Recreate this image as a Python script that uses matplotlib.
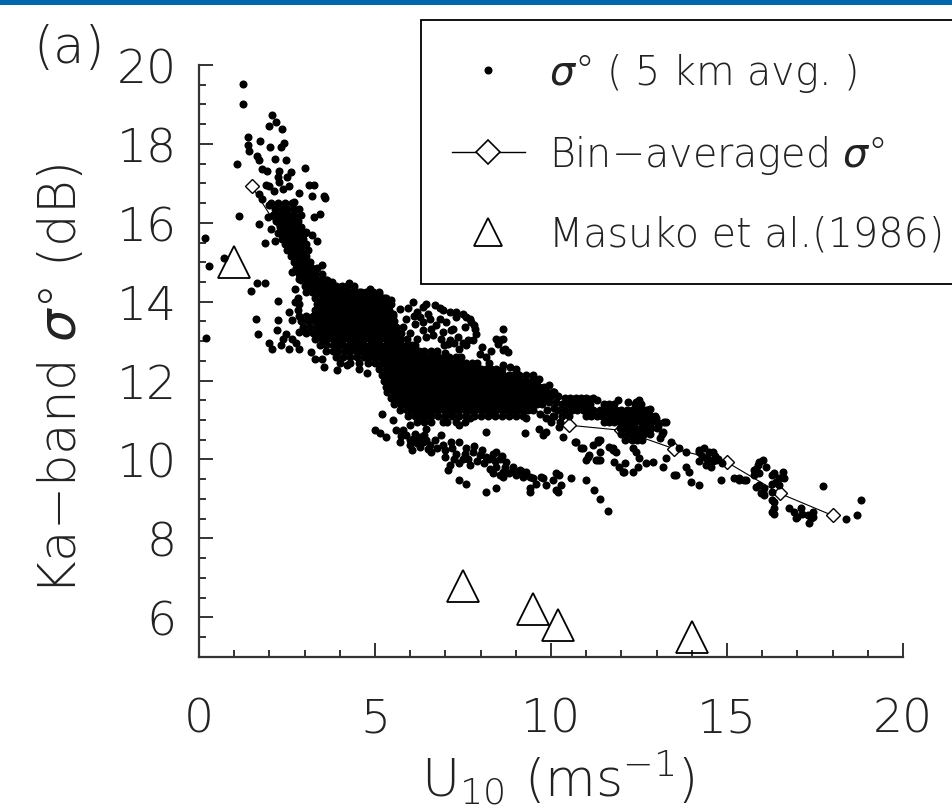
#!/usr/bin/env python
# -*- coding: utf-8 -*-
"""
Ka-band sigma0 versus U10 scatter plot, panel (a)
"""

import numpy as np
import matplotlib
matplotlib.use('Agg')
import matplotlib.pyplot as plt
from matplotlib.lines import Line2D
from matplotlib.patches import Rectangle
from matplotlib.ticker import MultipleLocator

# fonts: thin DejaVu face, normal weight italic for the sigma
plt.rcParams['font.family'] = ['DejaVu Sans']
plt.rcParams['font.weight'] = 'light'
plt.rcParams['axes.labelweight'] = 'light'
plt.rcParams['mathtext.fontset'] = 'custom'
plt.rcParams['mathtext.rm'] = 'DejaVu Sans:light'
plt.rcParams['mathtext.it'] = 'DejaVu Sans:italic'

# ---------------------------------------------------------------
# data (U10 in m/s, sigma0 in dB)
# ---------------------------------------------------------------

# bin averaged sigma0 (every 1.5 m/s)
bin_u = [1.5, 3.0, 4.5, 6.0, 7.5, 9.0, 10.5, 12.0, 13.5, 15.0, 16.5, 18.0]
bin_sig = [16.93, 14.8, 13.5, 12.6, 12.0, 11.45, 10.87, 10.74, 10.27, 9.93, 9.14, 8.58]

# Masuko et al. (1986)
masuko_u = [1.0, 7.5, 9.5, 10.2, 14.0]
masuko_sig = [15.0, 6.8, 6.2, 5.8, 5.5]

# isolated samples on the low wind / steep part
sparse_pts = [
    (0.17, 15.62), (0.28, 14.90), (0.71, 15.12), (0.19, 13.07), (1.07, 17.49),
    (1.15, 16.17), (1.26, 19.52), (1.26, 19.01), (1.47, 14.27), (1.65, 14.48),
    (1.87, 14.48), (1.61, 13.57), (1.68, 13.17), (1.70, 15.96), (1.87, 15.49),
    (2.08, 18.73), (1.99, 18.46), (2.19, 18.55), (2.36, 18.38), (1.40, 18.17),
    (1.40, 17.96), (1.42, 17.83), (1.73, 18.07), (2.03, 17.92), (2.32, 17.92),
    (2.41, 18.02), (1.65, 17.70), (1.70, 17.60), (2.17, 17.62), (2.46, 17.58),
    (1.80, 17.37), (1.94, 17.32), (2.27, 17.32), (2.25, 17.16), (2.51, 17.16),
    (3.01, 17.38), (1.89, 16.97), (1.99, 16.93), (2.27, 17.03), (2.55, 16.93),
    (3.12, 16.95), (3.26, 16.96), (1.70, 16.73), (1.80, 16.61), (2.70, 16.52),
    (3.22, 16.68), (3.55, 16.68), (3.59, 16.62), (3.26, 16.14), (3.45, 16.23),
    (3.03, 15.76), (3.22, 15.68), (3.36, 15.55), (3.50, 14.94), (3.26, 14.62),
    (2.25, 14.01), (2.00, 12.95), (2.08, 12.81), (2.32, 12.89), (2.46, 13.19),
    (2.65, 13.06), (2.84, 13.23), (2.55, 12.81), (2.84, 12.81), (3.17, 12.73),
    (3.31, 12.56), (2.55, 13.74), (2.65, 13.53), (2.74, 13.99), (2.74, 14.33),
    (2.25, 13.53), (2.22, 13.28), (2.38, 13.05), (2.75, 12.95), (3.55, 12.35),
    (3.92, 12.26), (4.78, 12.18), (4.20, 12.40), (4.55, 12.30), (3.78, 14.50),
    (4.02, 14.36), (4.54, 14.25), (4.73, 14.23), (4.92, 14.20), (5.11, 14.20),
    (3.97, 14.33), (5.30, 14.10), (2.65, 14.75), (2.84, 14.58), (3.12, 14.33),
    (3.40, 14.33), (2.00, 16.45), (2.12, 16.80), (2.40, 16.85), (2.60, 17.30),
    (2.85, 16.75), (1.95, 16.15), (2.05, 15.85), (2.15, 15.55), (3.60, 14.55),
    (4.25, 14.48), (4.85, 14.32), (5.45, 14.05), (3.50, 12.55), (4.00, 12.45),
]

# ring shaped sub-cloud above the main band
loop_pts = [
    (6.08, 13.99), (6.36, 13.86), (6.70, 13.92), (6.93, 13.78), (7.12, 13.74),
    (7.50, 13.70), (7.69, 13.57), (7.74, 13.49), (7.88, 13.19), (7.83, 13.30),
    (7.78, 13.02), (7.59, 12.89), (7.64, 13.02), (7.36, 13.10), (7.17, 13.27),
    (7.22, 13.32), (7.03, 13.48), (6.84, 13.57), (6.55, 13.57), (6.27, 13.61),
    (6.13, 13.44), (6.36, 13.27), (6.36, 13.49), (6.65, 13.15), (6.74, 13.40),
    (6.88, 13.06), (6.93, 13.23), (7.07, 12.94), (7.12, 13.02), (7.40, 12.81),
    (7.97, 12.68), (8.16, 12.60), (5.70, 13.82), (5.51, 13.69), (5.89, 13.57),
    (5.80, 13.36), (8.63, 13.32), (8.65, 13.06), (8.44, 13.06), (8.54, 13.02),
    (8.68, 12.81), (8.78, 12.73), (8.49, 12.94), (8.65, 12.77), (8.63, 12.39),
    (6.20, 13.75), (6.50, 13.70), (7.30, 13.60), (7.55, 13.35), (6.00, 13.20),
    (6.20, 13.05), (6.45, 13.95), (6.85, 13.85), (7.30, 13.75), (7.60, 13.60),
    (7.80, 13.40), (7.50, 12.95), (7.25, 12.95), (6.95, 12.90), (6.60, 13.30),
    (6.45, 13.10), (6.10, 13.65), (5.95, 13.85), (8.30, 12.75), (8.05, 12.85),
]

# edges of the main band and the 10-13 m/s group
band_edge_pts = [
    (9.01, 12.30), (9.30, 12.14), (9.49, 12.05), (9.67, 12.05), (9.86, 11.63),
    (10.05, 11.71), (9.48, 12.14), (9.01, 12.22), (9.77, 11.80), (10.10, 11.71),
    (10.43, 11.50), (10.62, 11.54), (10.85, 11.54), (11.09, 11.54), (11.57, 11.38),
    (12.51, 11.50), (12.42, 11.46), (12.51, 11.33), (12.70, 11.25), (12.79, 11.12),
    (12.98, 11.04), (13.27, 10.95), (13.17, 10.70), (12.80, 11.29), (5.20, 11.15),
    (5.50, 11.00), (5.99, 10.87), (6.46, 10.78), (6.93, 10.95), (7.40, 10.87),
    (7.69, 11.04), (8.35, 11.16), (8.14, 10.70), (9.25, 10.66), (9.30, 11.04),
    (9.86, 11.04), (10.24, 10.83), (9.67, 10.78), (9.86, 10.70), (10.34, 10.57),
    (10.71, 10.45), (10.90, 10.28), (11.05, 10.07), (11.19, 10.36), (11.33, 10.49),
    (11.33, 9.98), (11.75, 10.28), (9.77, 10.62), (6.75, 12.75), (7.00, 12.70),
    (7.45, 12.60), (8.25, 12.45), (8.85, 12.35), (9.95, 11.90), (10.20, 11.60),
    (11.30, 11.50), (11.90, 11.50), (12.20, 11.45), (13.05, 10.85), (13.10, 10.55),
    (9.95, 11.45), (10.10, 11.30), (10.00, 11.60), (9.90, 11.25), (10.05, 11.10),
    (9.70, 11.15), (10.15, 11.45),
]

# lower branch (5-11.5 m/s, 9-10.8 dB)
lower_pts = [
    (4.99, 10.74), (5.13, 10.66), (5.32, 10.57), (5.61, 10.74), (5.70, 10.45),
    (5.89, 10.62), (6.08, 10.53), (6.27, 10.57), (6.46, 10.49), (6.55, 10.36),
    (6.60, 10.19), (6.27, 10.32), (5.99, 10.36), (6.88, 10.62), (6.93, 10.36),
    (6.98, 10.07), (7.12, 9.86), (7.07, 9.73), (7.40, 10.45), (7.59, 10.28),
    (7.50, 10.02), (7.78, 10.19), (7.97, 10.11), (8.16, 10.07), (8.35, 10.15),
    (8.54, 10.02), (8.73, 9.94), (8.44, 9.81), (8.63, 9.69), (8.54, 9.60),
    (8.26, 9.77), (8.92, 9.77), (9.11, 9.73), (9.30, 9.69), (9.39, 9.56),
    (7.40, 9.90), (7.69, 9.86), (7.40, 9.48), (7.59, 9.37), (8.16, 9.18),
    (8.44, 9.27), (9.39, 9.27), (9.58, 9.39), (9.72, 9.56), (9.86, 9.35),
    (10.05, 9.48), (10.24, 9.60), (10.29, 9.35), (10.15, 9.22), (10.57, 9.52),
    (11.00, 9.48), (11.23, 9.22), (11.38, 9.01), (11.61, 8.70), (8.92, 9.81),
    (9.20, 9.69), (9.48, 9.52), (9.77, 9.52), (10.15, 9.65), (10.19, 9.18),
    (5.75, 10.60), (5.80, 10.75), (6.00, 10.50), (6.15, 10.65), (6.20, 10.42),
    (6.35, 10.45), (6.40, 10.62), (6.50, 10.27), (6.70, 10.50), (6.05, 10.25),
    (7.20, 10.30), (7.30, 10.15), (7.25, 10.00), (7.55, 10.15), (7.65, 10.00),
    (7.80, 10.35), (7.90, 9.95), (8.05, 10.25), (8.10, 9.90), (8.25, 10.00),
    (8.40, 9.95), (8.45, 10.20), (8.60, 10.10), (8.70, 9.80), (8.80, 9.65),
    (8.35, 9.65), (8.65, 9.55), (9.00, 9.60), (9.20, 9.55), (7.15, 10.45),
    (6.75, 10.30), (7.00, 10.25), (9.39, 9.18),
]

# scattered samples below the 10-13 m/s group
right_pts = [
    (11.66, 10.32), (11.75, 10.24), (11.80, 9.94), (11.94, 9.81), (12.08, 9.69),
    (12.32, 10.28), (12.51, 10.03), (12.46, 9.82), (12.70, 9.90), (12.89, 9.94),
    (13.17, 9.82), (13.27, 10.03), (13.55, 9.60), (13.83, 9.82), (13.93, 9.69),
    (13.98, 9.43), (14.21, 9.35), (11.38, 10.49), (11.38, 9.98), (10.67, 10.45),
    (10.86, 10.28), (11.09, 10.11), (11.33, 10.45), (11.38, 10.20), (11.00, 9.98),
    (11.28, 9.98), (11.85, 10.20), (12.09, 9.90), (12.04, 9.69), (12.42, 10.20),
    (12.32, 9.69), (13.83, 10.19), (14.21, 10.19), (14.40, 10.03), (14.69, 9.98),
    (14.59, 10.19), (14.83, 9.48), (15.21, 9.52), (15.35, 9.48), (15.54, 9.48),
    (13.50, 9.60), (14.20, 10.25), (14.35, 10.28), (14.50, 10.20), (14.65, 10.10),
    (14.30, 10.10), (14.45, 10.00), (14.60, 9.95), (14.75, 10.00), (14.20, 9.95),
    (14.40, 9.85), (14.55, 9.82), (14.85, 9.90), (13.40, 10.45), (13.65, 10.30),
]

# high wind tail
tail_pts = [
    (15.82, 9.77), (15.92, 9.94), (16.01, 9.98), (16.10, 9.82), (15.77, 9.60),
    (15.92, 9.35), (16.06, 9.27), (16.29, 9.60), (16.39, 9.43), (15.87, 9.86),
    (15.77, 9.73), (15.92, 9.65), (15.49, 9.48), (15.35, 9.52), (16.34, 9.65),
    (16.58, 9.69), (16.48, 9.52), (16.62, 9.52), (16.29, 9.39), (15.82, 9.31),
    (15.96, 9.14), (16.06, 9.10), (16.29, 8.97), (16.34, 8.76), (16.34, 8.63),
    (16.77, 8.76), (16.91, 8.68), (17.00, 8.55), (17.14, 8.63), (17.29, 8.59),
    (17.38, 8.51), (17.33, 8.38), (17.43, 8.55), (17.74, 9.33), (18.37, 8.48),
    (18.70, 8.59), (18.82, 8.97), (16.01, 9.18), (16.29, 9.18), (16.34, 8.93),
    (16.29, 8.68), (16.96, 8.51), (17.43, 8.68), (17.10, 8.76), (16.48, 9.35),
]

# densely packed parts of the cloud, written row by row: (sigma0, [U10, ...])
dense_rows = [
    (16.50, [2.05, 2.25, 2.45, 2.65]),
    (16.35, [2.15, 2.35, 2.5, 2.7, 2.85]),
    (16.20, [2.1, 2.25, 2.4, 2.55, 2.7, 2.9]),
    (16.05, [2.2, 2.35, 2.5, 2.65, 2.8]),
    (15.90, [2.3, 2.45, 2.6, 2.75, 2.9]),
    (15.75, [2.25, 2.4, 2.55, 2.7, 2.85, 3.0]),
    (15.60, [2.35, 2.5, 2.65, 2.8, 2.95]),
    (15.45, [2.45, 2.6, 2.75, 2.9, 3.05]),
    (15.30, [2.5, 2.65, 2.8, 2.95, 3.1]),
    (15.15, [2.6, 2.75, 2.9, 3.05]),
    (15.00, [2.7, 2.85, 3.0, 3.15]),
    (14.85, [2.75, 2.9, 3.05, 3.2, 3.35]),
    (14.70, [2.85, 3.0, 3.15, 3.3, 3.5]),
    (14.55, [2.9, 3.05, 3.2, 3.35, 3.5, 3.65]),
    (14.40, [3.0, 3.15, 3.3, 3.45, 3.6, 3.75, 3.9, 4.05, 4.2, 4.4]),
    (14.25, [3.05, 3.2, 3.4, 3.55, 3.7, 3.85, 4.0, 4.15, 4.3, 4.45, 4.6, 4.75, 4.95, 5.1]),
    (14.10, [2.8, 3.3, 3.45, 3.6, 3.75, 3.9, 4.05, 4.2, 4.35, 4.5, 4.65, 4.8, 4.95, 5.1, 5.25]),
    (13.95, [2.85, 3.35, 3.5, 3.65, 3.8, 3.95, 4.1, 4.25, 4.4, 4.55, 4.7, 4.85, 5.0, 5.15, 5.3, 5.45]),
    (13.80, [2.8, 3.3, 3.45, 3.6, 3.75, 3.9, 4.05, 4.2, 4.35, 4.5, 4.65, 4.8, 4.95, 5.1, 5.25, 5.4]),
    (13.65, [2.85, 3.05, 3.25, 3.4, 3.55, 3.7, 3.85, 4.0, 4.15, 4.3, 4.45, 4.6, 4.75, 4.9, 5.05, 5.2,
             5.35, 5.5]),
    (13.50, [2.9, 3.1, 3.3, 3.45, 3.6, 3.75, 3.9, 4.05, 4.2, 4.35, 4.5, 4.65, 4.8, 4.95, 5.1, 5.25,
             5.4, 5.55]),
    (13.35, [2.95, 3.15, 3.35, 3.5, 3.65, 3.8, 3.95, 4.1, 4.25, 4.4, 4.55, 4.7, 4.85, 5.0, 5.15, 5.3,
             5.45, 5.6]),
    (13.20, [3.05, 3.25, 3.4, 3.55, 3.7, 3.85, 4.0, 4.15, 4.3, 4.45, 4.6, 4.75, 4.9, 5.05, 5.2, 5.35,
             5.5, 5.65, 5.75]),
    (13.05, [3.3, 3.5, 3.65, 3.8, 3.95, 4.1, 4.25, 4.4, 4.55, 4.7, 4.85, 5.0, 5.15, 5.3, 5.45, 5.6,
             5.75, 5.9]),
    (12.90, [3.45, 3.6, 3.8, 3.95, 4.1, 4.25, 4.4, 4.55, 4.7, 4.85, 5.0, 5.15, 5.3, 5.45, 5.6, 5.75,
             5.9, 6.05, 6.15]),
    (12.75, [3.6, 3.8, 3.95, 4.15, 4.3, 4.45, 4.6, 4.75, 4.9, 5.05, 5.2, 5.35, 5.5, 5.65, 5.8, 5.95,
             6.1, 6.25, 6.4, 6.6]),
    (12.60, [3.9, 4.1, 4.3, 4.5, 4.7, 4.85, 5.0, 5.15, 5.3, 5.45, 5.6, 5.75, 5.9, 6.05, 6.2, 6.35,
             6.5, 6.65, 6.8, 6.95, 7.1, 7.3]),
    (12.45, [4.3, 4.55, 4.8, 5.0, 5.2, 5.35, 5.5, 5.65, 5.8, 5.95, 6.1, 6.25, 6.4, 6.55, 6.7, 6.85,
             7.0, 7.15, 7.3, 7.45, 7.6, 7.75, 7.9]),
    (12.30, [5.1, 5.3, 5.45, 5.6, 5.75, 5.9, 6.05, 6.2, 6.35, 6.5, 6.65, 6.8, 6.95, 7.1, 7.25, 7.4,
             7.55, 7.7, 7.85, 8.0, 8.15, 8.3, 8.45, 8.6]),
    (12.15, [5.2, 5.35, 5.5, 5.65, 5.8, 5.95, 6.1, 6.25, 6.4, 6.55, 6.7, 6.85, 7.0, 7.15, 7.3, 7.45,
             7.6, 7.75, 7.9, 8.05, 8.2, 8.35, 8.5, 8.65, 8.8, 8.95, 9.1]),
    (12.00, [5.25, 5.4, 5.55, 5.7, 5.85, 6.0, 6.15, 6.3, 6.45, 6.6, 6.75, 6.9, 7.05, 7.2, 7.35, 7.5,
             7.65, 7.8, 7.95, 8.1, 8.25, 8.4, 8.55, 8.7, 8.85, 9.0, 9.15, 9.3, 9.45, 9.6]),
    (11.85, [5.3, 5.45, 5.6, 5.75, 5.9, 6.05, 6.2, 6.35, 6.5, 6.65, 6.8, 6.95, 7.1, 7.25, 7.4, 7.55,
             7.7, 7.85, 8.0, 8.15, 8.3, 8.45, 8.6, 8.75, 8.9, 9.05, 9.2, 9.35, 9.5, 9.65, 9.8]),
    (11.70, [5.35, 5.55, 5.7, 5.85, 6.0, 6.15, 6.3, 6.45, 6.6, 6.75, 6.9, 7.05, 7.2, 7.35, 7.5, 7.65,
             7.8, 7.95, 8.1, 8.25, 8.4, 8.55, 8.7, 8.85, 9.0, 9.15, 9.3, 9.45, 9.6, 9.75, 9.9, 10.05]),
    (11.55, [5.45, 5.6, 5.75, 5.9, 6.05, 6.2, 6.35, 6.5, 6.65, 6.8, 6.95, 7.1, 7.25, 7.4, 7.55, 7.7,
             7.85, 8.0, 8.15, 8.3, 8.45, 8.6, 8.75, 8.9, 9.05, 9.2, 9.35, 9.5, 9.65, 9.8,
             10.4, 10.55, 10.7, 10.85, 11.0, 11.2]),
    (11.40, [5.55, 5.7, 5.85, 6.0, 6.15, 6.3, 6.45, 6.6, 6.75, 6.9, 7.05, 7.2, 7.35, 7.5, 7.65, 7.8,
             7.95, 8.1, 8.25, 8.4, 8.55, 8.7, 8.85, 9.0, 9.15, 9.3, 9.45, 9.6, 9.75,
             10.3, 10.5, 10.65, 10.8, 10.95, 11.1, 11.5, 11.65, 11.8, 12.4, 12.55]),
    (11.25, [5.7, 5.9, 6.05, 6.2, 6.35, 6.5, 6.65, 6.8, 6.95, 7.1, 7.25, 7.4, 7.55, 7.7, 7.85, 8.0,
             8.15, 8.3, 8.45, 8.6, 8.75, 8.9, 9.05, 9.2, 9.35, 9.5,
             10.2, 10.4, 10.6, 10.75, 10.9, 11.05, 11.2, 11.4, 11.55, 11.7, 11.85, 12.0, 12.15,
             12.3, 12.45, 12.6, 12.75]),
    (11.10, [5.95, 6.15, 6.3, 6.45, 6.6, 6.8, 7.0, 7.2, 7.4, 7.6, 7.8, 8.0, 8.2, 8.4, 8.6, 8.8,
             9.0, 9.2, 10.1, 10.3, 10.5, 11.0, 11.15, 11.3, 11.45, 11.6, 11.75, 11.9, 12.05,
             12.2, 12.35, 12.5, 12.65, 12.8, 12.95]),
    (10.95, [6.2, 6.4, 6.6, 7.05, 7.3, 7.55, 10.0, 10.25, 11.5, 11.65, 11.8, 11.95, 12.1, 12.25,
             12.4, 12.55, 12.7, 12.85, 13.0, 13.2]),
    (10.80, [11.95, 12.1, 12.25, 12.4, 12.55, 12.7, 12.85, 13.0]),
    (10.65, [12.0, 12.2, 12.35, 12.5, 12.65, 12.8, 13.15]),
    (10.50, [12.1, 12.3, 12.45, 12.6]),
]

# tick settings
x_major_ticks = [0, 5, 10, 15, 20]
y_major_ticks = [6, 8, 10, 12, 14, 16, 18, 20]

legend_labels = [r'$\sigma$° ( 5 km avg. )',
                 r'Bin−averaged $\sigma$°',
                 'Masuko et al.(1986)']


def collect_points():
    """Join all the point groups into two arrays"""
    pts = sparse_pts + loop_pts + band_edge_pts + lower_pts + right_pts + tail_pts
    for s, us in dense_rows:
        pts = pts + [(u, s) for u in us]
    pts = np.array(pts)
    return pts[:, 0], pts[:, 1]


def plot_chart(output_file='out.png'):
    fig = plt.figure(figsize=(9.53, 8.12), dpi=100)
    ax = fig.add_axes([0.2088, 0.1900, 0.7387, 0.7287])

    # blue strip at the top of the page
    fig.patches.append(Rectangle((0, 1 - 6 / 812), 1, 6 / 812, transform=fig.transFigure,
                                 facecolor='#0066ad', edgecolor='none', zorder=0))

    u10, sig = collect_points()

    # bin averaged line goes underneath the samples
    ax.plot(bin_u, bin_sig, color='black', lw=0.8, marker='D', ms=7.2,
            mfc='white', mec='black', mew=1.0, zorder=2)
    ax.plot(u10, sig, ls='none', marker='o', ms=5.8, color='black', mew=0, zorder=3)
    ax.plot(masuko_u, masuko_sig, ls='none', marker='^', ms=23, mfc='none',
            mec='black', mew=1.3, zorder=4, clip_on=False)

    ax.set_xlim(0, 20)
    ax.set_ylim(5, 20)
    ax.set_xticks(x_major_ticks)
    ax.set_yticks(y_major_ticks)
    ax.xaxis.set_minor_locator(MultipleLocator(1))
    ax.yaxis.set_minor_locator(MultipleLocator(0.5))

    axis_color = '#333333'
    for side in ['top', 'right']:
        ax.spines[side].set_visible(False)
    for side in ['left', 'bottom']:
        ax.spines[side].set_linewidth(1.6)
        ax.spines[side].set_color(axis_color)

    ax.tick_params(axis='both', which='both', direction='in', color=axis_color,
                   labelcolor='#222222', width=1.4)
    ax.tick_params(axis='both', which='major', length=10, labelsize=34)
    ax.tick_params(axis='both', which='minor', length=5)
    ax.tick_params(axis='x', pad=29)
    ax.tick_params(axis='y', pad=16)

    ax.set_xlabel(r'U$_{10}$ (ms$^{-1}$)', fontsize=37.5, color='#222222')
    ax.xaxis.set_label_coords(0.51, -0.152)
    ax.set_ylabel(r'Ka−band $\sigma$° (dB)', fontsize=37, color='#222222')
    ax.yaxis.set_label_coords(-0.16, 0.47)

    fig.text(33 / 953, 1 - 24 / 812, '(a)', fontsize=37, va='top', ha='left', color='#222222')

    # legend with its own marker sizes
    handles = [
        Line2D([], [], ls='none', marker='o', ms=5.8, color='black', mew=0),
        Line2D([], [], color='black', lw=1.0, marker='D', ms=12.5, mfc='white',
               mec='black', mew=1.2),
        Line2D([], [], ls='none', marker='^', ms=20, mfc='none', mec='black', mew=1.3),
    ]
    leg = ax.legend(handles, legend_labels, loc='upper left',
                    bbox_to_anchor=(421 / 953, 1 - 21 / 812), bbox_transform=fig.transFigure,
                    borderaxespad=0, borderpad=0.78, handlelength=1.85, handletextpad=0.6,
                    labelspacing=0.98, fontsize=28.5, frameon=True, fancybox=False,
                    framealpha=1, edgecolor='black')
    leg.get_frame().set_linewidth(1.3)
    for t in leg.get_texts():
        t.set_color('#222222')

    fig.savefig(output_file, dpi=100)


def main():
    plot_chart('out.png')


if __name__ == '__main__':
    main()
